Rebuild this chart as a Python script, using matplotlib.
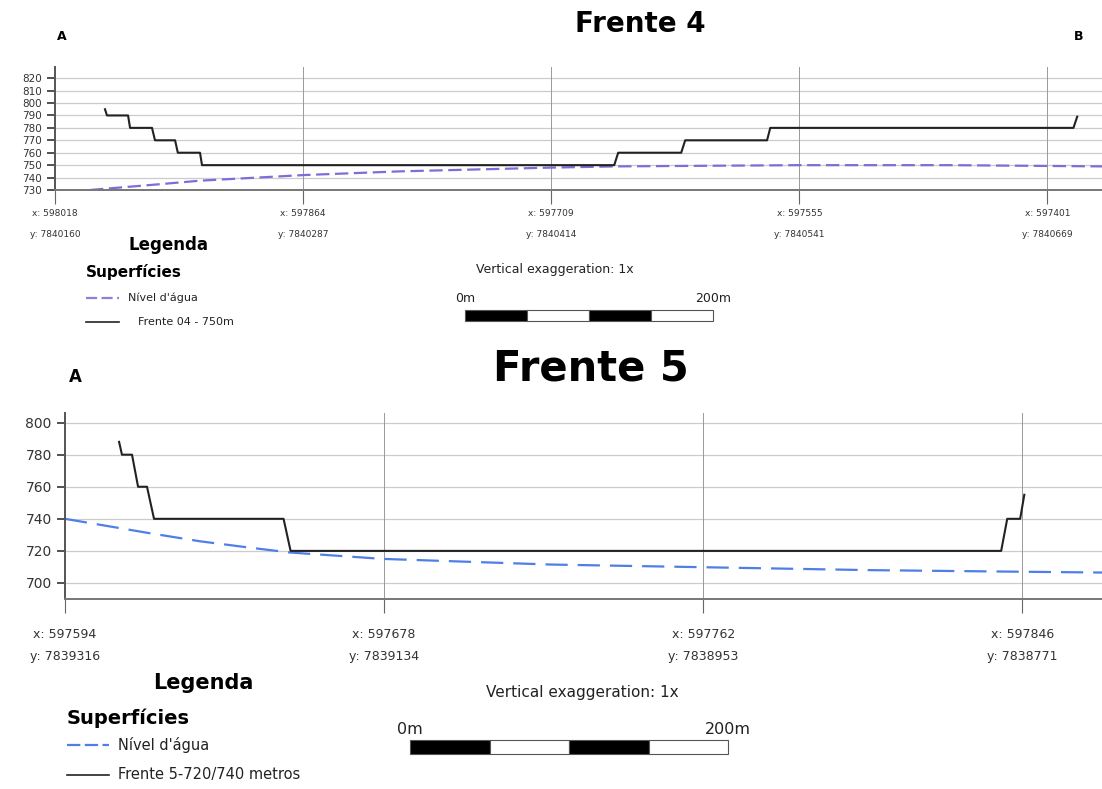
import matplotlib.pyplot as plt
from matplotlib.patches import Rectangle

W, H = 1102, 789

# ---- Frente 4 (distance along profile in m) ----
f4_ticks = [0, 200, 400, 600, 800]
f4_ticklabels = ["x: 598018\ny: 7840160", "x: 597864\ny: 7840287", "x: 597709\ny: 7840414",
                 "x: 597555\ny: 7840541", "x: 597401\ny: 7840669"]
f4_front_x = [40.3, 41.9, 58.9, 60.5, 78.2, 80.6, 96.8, 99.0, 116.9, 118.5, 450.8, 454.0,
              504.8, 508.0, 574.0, 576.6, 821.0, 824.0]
f4_front_z = [795, 790, 790, 780, 780, 770, 770, 760, 760, 750, 750, 760,
              760, 770, 770, 780, 780, 789]
f4_water_x = [28.2, 76.6, 116.9, 200, 278, 399, 451.6, 600.8, 721.8, 844]
f4_water_z = [730, 734, 737.5, 742, 745, 748, 749, 750, 750, 749]

# ---- Frente 5 ----
f5_ticks = [0, 200, 400, 600]
f5_ticklabels = ["x: 597594\ny: 7839316", "x: 597678\ny: 7839134",
                 "x: 597762\ny: 7838953", "x: 597846\ny: 7838771"]
f5_front_x = [33.9, 35.7, 42.0, 45.8, 51.4, 55.8, 137.0, 141.4, 586.8, 590.6, 598.7, 601.3]
f5_front_z = [788, 780, 780, 760, 760, 740, 740, 720, 720, 740, 740, 755]
f5_water_x = [0, 53.3, 84.6, 116, 141, 199.4, 304, 401, 504.7, 600, 650]
f5_water_z = [740, 731, 726, 722, 719, 715, 711.5, 709.8, 708, 707, 706.5]

scale_segments = [0, 50, 100, 150, 200]


def fx(px):
    return px / W


def fy(py):
    return 1 - py / H


fig = plt.figure(figsize=(W / 100, H / 100), dpi=100)


def profile(rect, xlim, ylim, yticks, xticks, xlabels, wx, wz, wcol, wdash, px, pz, fs, pad, lsp):
    ax = fig.add_axes(rect)
    ax.set_xlim(*xlim)
    ax.set_ylim(*ylim)
    ax.set_yticks(yticks)
    ax.set_xticks(xticks)
    ax.set_xticklabels(xlabels, fontsize=fs, color='#333333', linespacing=lsp)
    ax.tick_params(axis='y', labelsize=fs + 1, colors='#333333', length=6, width=1.2)
    ax.tick_params(axis='x', length=10, width=0.8, color='#666666', pad=pad)
    for s in ['top', 'right']:
        ax.spines[s].set_visible(False)
    ax.spines['left'].set_color('#555555')
    ax.spines['left'].set_linewidth(1.4)
    ax.spines['bottom'].set_color('#777777')
    ax.spines['bottom'].set_linewidth(1.4)
    for yv in yticks:
        ax.axhline(yv, color='#cccccc', lw=0.9, zorder=0)
    for xv in xticks[1:]:
        ax.axvline(xv, color='#999999', lw=0.7, zorder=0)
    ax.plot(wx, wz, color=wcol, lw=1.6, dashes=wdash)
    ax.plot(px, pz, color='#222222', lw=1.5)
    return ax


profile([fx(55), fy(190), fx(W - 55), (190 - 67) / H], (0, 844), (730, 829),
        list(range(730, 821, 10)), f4_ticks, f4_ticklabels,
        f4_water_x, f4_water_z, '#7a6fd8', (6, 2.5), f4_front_x, f4_front_z, 6.5, 4, 2.7)

profile([fx(65), fy(599), fx(W - 65), (599 - 413) / H], (0, 650), (690, 806),
        list(range(700, 801, 20)), f5_ticks, f5_ticklabels,
        f5_water_x, f5_water_z, '#4f7fe6', (10, 4.5), f5_front_x, f5_front_z, 9, 11, 1.85)

# titles and end letters
fig.text(fx(640), fy(24), "Frente 4", fontsize=20, fontweight='bold', ha='center', va='center')
fig.text(fx(62), fy(37), "A", fontsize=9, fontweight='bold', ha='center', va='center')
fig.text(fx(1079), fy(37), "B", fontsize=9, fontweight='bold', ha='center', va='center')
fig.text(fx(591), fy(368), "Frente 5", fontsize=30, fontweight='bold', ha='center', va='center')
fig.text(fx(75), fy(377), "A", fontsize=12, fontweight='bold', ha='center', va='center')


def legend(x0, ytitle, ysup, yl1, yl2, dx, tfs, sfs, lfs, wcol, dash, label2, xt2, x_lab):
    fig.text(fx(x0[0]), fy(ytitle), "Legenda", fontsize=tfs, fontweight='bold', va='center')
    fig.text(fx(x0[1]), fy(ysup), "Superfícies", fontsize=sfs, fontweight='bold', va='center')
    fig.add_artist(plt.Line2D([fx(x0[1]), fx(x0[1] + dx)], [fy(yl1), fy(yl1)],
                              color=wcol, lw=1.6, dashes=dash))
    fig.text(fx(x_lab), fy(yl1), "Nível d'água", fontsize=lfs, va='center', color='#222222')
    fig.add_artist(plt.Line2D([fx(x0[1]), fx(x0[1] + dx)], [fy(yl2), fy(yl2)],
                              color='#222222', lw=1.2))
    fig.text(fx(xt2), fy(yl2), label2, fontsize=lfs, va='center', color='#222222')


legend((128, 86), 245, 272, 298, 322, 33, 12, 11, 8, '#8a80dd', (5, 2),
       "Frente 04 - 750m", 138, 128)
legend((153, 67), 683, 718, 745, 775, 42, 15, 14, 10.5, '#4f7fe6', (6, 2),
       "Frente 5-720/740 metros", 118, 118)


def scalebar(cx, ytxt, ylab, x0, x1, y0, y1, fs_t, fs_l):
    fig.text(fx(cx), fy(ytxt), "Vertical exaggeration: 1x", fontsize=fs_t, ha='center',
             va='center', color='#222222')
    fig.text(fx(x0), fy(ylab), "0m", fontsize=fs_l, ha='center', va='center', color='#222222')
    fig.text(fx(x1), fy(ylab), "200m", fontsize=fs_l, ha='center', va='center', color='#222222')
    span = scale_segments[-1]
    for i in range(len(scale_segments) - 1):
        a = x0 + (x1 - x0) * scale_segments[i] / span
        b = x0 + (x1 - x0) * scale_segments[i + 1] / span
        col = 'black' if i % 2 == 0 else 'white'
        fig.add_artist(Rectangle((fx(a), fy(y1)), fx(b - a), (y1 - y0) / H,
                                 facecolor=col, edgecolor='#555555', lw=0.8))


scalebar(555, 270, 298, 465, 713, 310, 321, 9, 9)
scalebar(582, 693, 730, 410, 728, 740, 754, 11, 11.5)

fig.savefig("out.png", dpi=100)
